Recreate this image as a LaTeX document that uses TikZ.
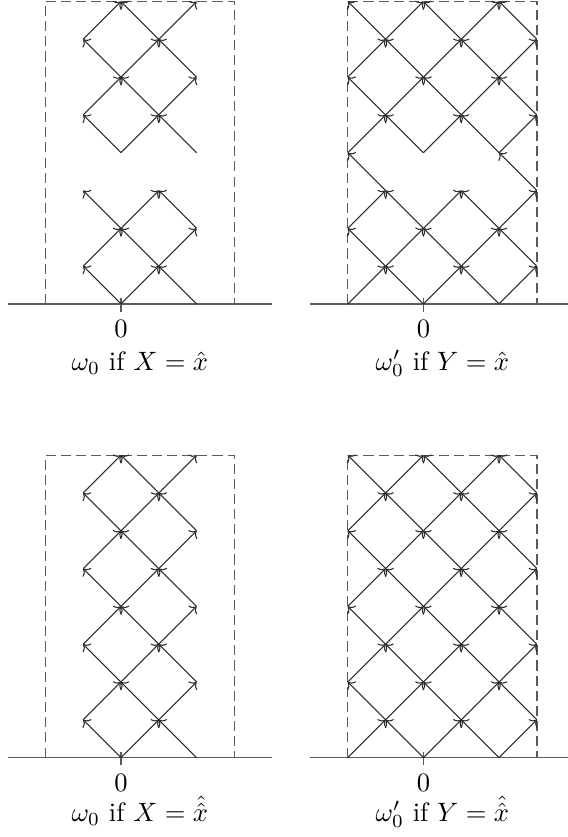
\documentclass[tikz,border=0pt]{standalone}
\usepackage{amsmath,amssymb}
\usepackage{tikz}
\usetikzlibrary{arrows.meta}
\definecolor{lline}{HTML}{2B2B2B}
\definecolor{lgray}{HTML}{5A5A5A}
\tikzset{
  arr/.style={-{To[length=2.2pt,width=4.6pt]}, line width=0.4pt, lline},
  axisline/.style={line width=0.55pt, lgray},
  boxline/.style={line width=0.5pt, lgray, dash pattern=on 3.8pt off 1.9pt},
}

\begin{document}
\begin{tikzpicture}[x=0.5cm, y=0.5cm]
  \useasboundingbox (-3.2,-14.1) rectangle (11.8,8.04);
  \foreach \px/\py/\cy/\lab [count=\i] in {
      0/0/-1.75/{$\omega_0$ if $X=\hat{x}$},
      8/0/-1.75/{$\omega_0'$ if $Y=\hat{x}$},
      0/-12/-1.68/{$\omega_0$ if $X=\hat{\hat{x}}$},
      8/-12/-1.68/{$\omega_0'$ if $Y=\hat{\hat{x}}$}}{
    \begin{scope}[shift={(\px,\py)}]
      \draw[axisline] (-3,0) -- (4,0);
      \draw[axisline] (0,-0.2) -- (0,0.15);
      \draw[boxline] (-2,0) -- (-2,8) -- (3,8) -- (3,0);
      \node[anchor=base, inner sep=0pt] (zero-\i) at (0,-0.9) {$0$};
      \node[anchor=base, inner sep=0pt] (cap-\i) at (0.5,\cy) {\lab};
    \end{scope}
  }

  \foreach \py/\cut in {0/3, -12/-1}{
    \foreach \t in {0,2,4,6}{
      \draw[arr] (0,\py+\t) -- ++(-1,1);
      \draw[arr] (0,\py+\t) -- ++(1,1);
      \draw[arr] (2,\py+\t) -- ++(-1,1);
    }
    \foreach \t in {1,3,5,7}{
      \ifnum\t=\cut\else
        \draw[arr] (-1,\py+\t) -- ++(1,1);
        \draw[arr] (1,\py+\t) -- ++(-1,1);
        \draw[arr] (1,\py+\t) -- ++(1,1);
      \fi
    }
  }

  \foreach \py/\cut in {0/3, -12/-1}{
    \foreach \t in {0,...,7}{
      \foreach \x in {-2,...,3}{
        \pgfmathtruncatemacro\odd{mod(\x+\t+4,2)}
        \ifnum\odd=0
          \ifnum\t=\cut
            \ifnum\x=1\else \draw[arr] (8+\x,\py+\t) -- ++(-1,1); \fi
          \else
            \ifnum\x>-2 \draw[arr] (8+\x,\py+\t) -- ++(-1,1); \fi
            \ifnum\x<3 \draw[arr] (8+\x,\py+\t) -- ++(1,1); \fi
          \fi
        \fi
      }
    }
  }
\end{tikzpicture}
\end{document}
